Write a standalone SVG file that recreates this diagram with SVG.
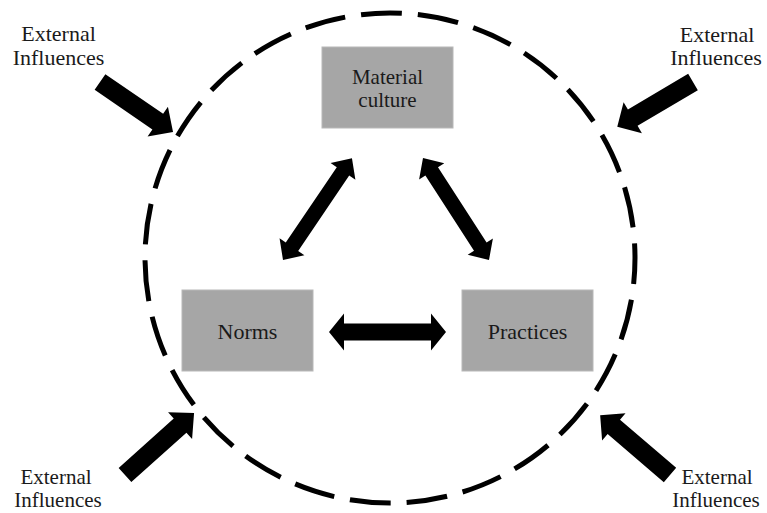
<svg xmlns="http://www.w3.org/2000/svg" width="767" height="513" viewBox="0 0 767 513">
<style>
.box{fill:#a6a6a6;stroke:#b8b8b8;stroke-width:1}
.lbl{font-family:"Liberation Serif","Times New Roman",serif;font-size:22px;fill:#1a1a1a;text-anchor:middle}
.in{font-size:21px}
.arr{fill:#000}
.ring{fill:none;stroke:#000;stroke-width:5;stroke-dasharray:41 16;stroke-dashoffset:15}
</style>
<rect width="767" height="513" fill="#fff"/>
<g id="boundary">
<circle class="ring" cx="390" cy="258" r="245"/>
</g>
<g id="material-culture">
<rect class="box" x="322" y="47" width="131" height="81"/>
<text class="lbl in" x="387.5" y="84">Material</text>
<text class="lbl in" x="387.5" y="107">culture</text>
</g>
<g id="norms">
<rect class="box" x="182" y="290" width="131" height="81"/>
<text class="lbl" x="247.5" y="339">Norms</text>
</g>
<g id="practices">
<rect class="box" x="462" y="290" width="131" height="81"/>
<text class="lbl" x="527.5" y="339">Practices</text>
</g>
<g id="ext-tl">
<text class="lbl" x="58.5" y="41">External</text>
<text class="lbl" x="58.5" y="65">Influences</text>
</g>
<g id="ext-tr">
<text class="lbl" x="717" y="42">External</text>
<text class="lbl" x="716" y="65">Influences</text>
</g>
<g id="ext-bl">
<text class="lbl in" x="56" y="484">External</text>
<text class="lbl in" x="58" y="507">Influences</text>
</g>
<g id="ext-br">
<text class="lbl in" x="717" y="484">External</text>
<text class="lbl in" x="716" y="507">Influences</text>
</g>
<g id="connectors">
<polygon class="arr" points="329,332 344,313.5 344,323.5 431,323.5 431,313.5 446,332 431,350.5 431,340.5 344,340.5 344,350.5"/>
<polygon class="arr" transform="translate(283,260) rotate(-55.9)" points="0,0 16,-15 16,-7.5 107,-7.5 107,-15 123,0 107,15 107,7.5 16,7.5 16,15"/>
<polygon class="arr" transform="translate(423,158) rotate(57.1)" points="0,0 16,-15 16,-7.5 105.5,-7.5 105.5,-15 121.5,0 105.5,15 105.5,7.5 16,7.5 16,15"/>
<polygon class="arr" transform="translate(100,82) rotate(34.4)" points="0,-9.5 70,-9.5 70,-18 88.5,0 70,18 70,9.5 0,9.5"/>
<polygon class="arr" transform="translate(693,82) rotate(149.4)" points="0,-9.5 70,-9.5 70,-18 88,0 70,18 70,9.5 0,9.5"/>
<polygon class="arr" transform="translate(125,475) rotate(-41.9)" points="0,-9.5 74,-9.5 74,-18 92.8,0 74,18 74,9.5 0,9.5"/>
<polygon class="arr" transform="translate(670,475) rotate(-139.4)" points="0,-9.5 74,-9.5 74,-18 92,0 74,18 74,9.5 0,9.5"/>
</g>
</svg>
